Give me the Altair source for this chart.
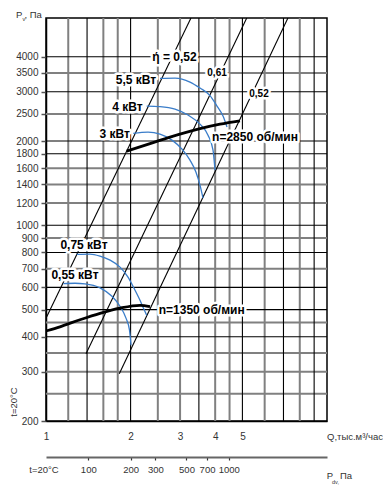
import altair as alt
import pandas as pd

FONT = "Liberation Sans"

# ---------------- axis values ----------------
q_ticks = [1, 2, 3, 4, 5]
p_ticks = [200, 300, 400, 500, 600, 700, 800, 900, 1000, 1200, 1400, 1600,
           1800, 2000, 2500, 3000, 3500, 4000]
pdv_ticks = [100, 200, 300, 500, 700, 1000]
pdv_per_q2 = 50
q_domain = [1, 10]
p_domain = [200, 5500]

# ---------------- grid ----------------
q_grid_black = [1.4, 2, 3.5, 5, 7, 9]
q_grid_gray = [1.2, 1.6, 1.8, 2.5, 3, 4, 4.5, 6, 8]
p_grid_black = [400, 500, 600, 800, 1000, 1800, 2000, 3000, 4000]
p_grid_gray = [250, 300, 350, 450, 700, 900, 1200, 1400, 1600, 2500, 3500]

# ---------------- fan curves ----------------
n2850_q = [1.937, 2.345, 2.763, 3.532, 4.161, 4.902]
n2850_p = [1841, 1958, 2066, 2215, 2298, 2362]
n1350_q = [1.006, 1.121, 1.321, 1.557, 1.834, 2.161, 2.345]
n1350_p = [420, 434, 460, 485, 506, 518, 512]

# ---------------- power curves ----------------
kw55_q = [2.545, 2.878, 3.254, 3.532, 3.834, 4.060, 4.265, 4.407]
kw55_p = [3349, 3357, 3248, 3092, 2906, 2666, 2455, 2243]
kw4_q = [2.282, 2.545, 2.878, 3.201, 3.532, 3.772, 3.930, 3.994]
kw4_p = [2666, 2654, 2600, 2476, 2298, 2099, 1856, 1574]
kw3_q = [2.045, 2.307, 2.545, 2.808, 3.048, 3.254, 3.418, 3.532, 3.620]
kw3_p = [2129, 2152, 2117, 2015, 1871, 1709, 1548, 1391, 1250]
kw075_q = [1.286, 1.434, 1.557, 1.690, 1.834, 1.958, 2.057, 2.160, 2.232, 2.282]
kw075_p = [787, 789, 776, 751, 709, 653, 596, 540, 501, 477]
kw055_q = [1.152, 1.268, 1.376, 1.557, 1.717, 1.834, 1.926, 1.982, 2.007]
kw055_p = [619, 621, 618, 598, 558, 514, 466, 422, 373]

# ---------------- efficiency (system) lines ----------------
eff_id = ["A", "A", "B", "B", "C", "C"]
eff_q = [1.006, 3.28, 1.388, 5.18, 1.823, 7.26]
eff_p = [471, 5500, 348, 5500, 295, 5500]

# ---------------- labels ----------------
lab_big = ["ή = 0,52", "5,5 кВт", "4 кВт", "3 кВт", "n=2850 об/мин",
           "0,75 кВт", "0,55 кВт", "n=1350 об/мин"]
lab_big_q = [2.867, 2.090, 1.950, 1.756, 5.544, 1.365, 1.268, 3.582]
lab_big_p = [4000, 3302, 2644, 2117, 2070, 849, 663, 500]
lab_small = ["0,61", "0,52"]
lab_small_q = [4.061, 5.728]
lab_small_p = [3497, 2943]


def series(name, qs, ps):
    return pd.DataFrame({"q": qs, "p": ps, "s": name, "i": list(range(len(qs)))})


xs = alt.Scale(type="log", domain=q_domain, nice=False)
ys = alt.Scale(type="log", domain=p_domain, nice=False)

x_axis = alt.Axis(values=q_ticks, format="d", ticks=False, labelPadding=10,
                  labelFontSize=10, labelFont=FONT, labelColor="#333",
                  grid=False, domainColor="black", domainWidth=1.5,
                  title=None, labelFlush=False)
y_axis = alt.Axis(values=p_ticks, format="d", tickSize=5, tickColor="#555",
                  tickWidth=1.5, labelPadding=3, labelFontSize=10,
                  labelFont=FONT, labelColor="#333", grid=False,
                  domainColor="black", domainWidth=1.5, title=None,
                  labelFlush=False, labelOverlap=False)


def X():
    return alt.X("q:Q", scale=xs, axis=x_axis)


def Y():
    return alt.Y("p:Q", scale=ys, axis=y_axis)


# grid
vg_gray = alt.Chart(pd.DataFrame({"q": q_grid_gray})).mark_rule(
    color="#808080", strokeWidth=2).encode(x=X())
vg_black = alt.Chart(pd.DataFrame({"q": q_grid_black})).mark_rule(
    color="black", strokeWidth=1.1).encode(x=X())
hg_gray = alt.Chart(pd.DataFrame({"p": p_grid_gray})).mark_rule(
    color="#808080", strokeWidth=2).encode(y=Y())
hg_black = alt.Chart(pd.DataFrame({"p": p_grid_black})).mark_rule(
    color="black", strokeWidth=1.1).encode(y=Y())

# efficiency lines
eff_df = pd.DataFrame({"q": eff_q, "p": eff_p, "s": eff_id})
eff = alt.Chart(eff_df).mark_line(color="black", strokeWidth=1.1, clip=True).encode(
    x=X(), y=Y(), detail="s:N")

# power curves
pw_df = pd.concat([
    series("5.5", kw55_q, kw55_p),
    series("4", kw4_q, kw4_p),
    series("3", kw3_q, kw3_p),
    series("0.75", kw075_q, kw075_p),
    series("0.55", kw055_q, kw055_p),
])
pw = alt.Chart(pw_df).mark_line(color="#3a7dc9", strokeWidth=1.3,
                                interpolate="monotone").encode(
    x=X(), y=Y(), detail="s:N", order="i:Q")

# fan curves
n_df = pd.concat([series("2850", n2850_q, n2850_p),
                  series("1350", n1350_q, n1350_p)])
ncurves = alt.Chart(n_df).mark_line(color="black", strokeWidth=2.8,
                                    interpolate="monotone").encode(
    x=X(), y=Y(), detail="s:N", order="i:Q")

# labels with white halo
big_df = pd.DataFrame({"q": lab_big_q, "p": lab_big_p, "t": lab_big})
small_df = pd.DataFrame({"q": lab_small_q, "p": lab_small_p, "t": lab_small})


def label_layers(df, size):
    halo = alt.Chart(df).mark_text(font=FONT, fontSize=size, fontWeight="bold",
                                   fill="white", stroke="white", strokeWidth=5,
                                   strokeJoin="round").encode(
        x=X(), y=Y(), text="t:N")
    txt = alt.Chart(df).mark_text(font=FONT, fontSize=size, fontWeight="bold",
                                  color="black").encode(
        x=X(), y=Y(), text="t:N")
    return [halo, txt]


def annot(text, x, y, size=9.5, align="left", angle=0):
    return alt.Chart(pd.DataFrame({"t": [text]})).mark_text(
        font=FONT, fontSize=size, color="#333", align=align,
        baseline="middle", angle=angle).encode(
        text="t:N", x=alt.value(x), y=alt.value(y))


annots = [
    annot("P", -30, -3, 9.5),
    annot("v", -23.5, 0.5, 5.5),
    annot(", Па", -21.5, -3, 9.5),
    annot("Q,тыс.м³/час", 281, 419, 9.5),
    annot("t=20°C", -2, 452, 9.5, align="center"),
    annot("P", 280.7, 458, 9.5),
    annot("dv,", 286, 463.5, 5.5),
    annot("Па", 294, 458, 9.5),
    annot("t=20°C", -32, 384, 9.5, align="center", angle=270),
]

inner = alt.layer(
    vg_gray, hg_gray, vg_black, hg_black, eff, pw, ncurves,
    *label_layers(big_df, 12), *label_layers(small_df, 10),
    *annots,
)

sec = alt.Chart(pd.DataFrame({"pdv": pdv_ticks})).mark_point(opacity=0).encode(
    x=alt.X("pdv:Q",
            scale=alt.Scale(type="log",
                            domain=[pdv_per_q2 * q_domain[0] ** 2,
                                    pdv_per_q2 * q_domain[1] ** 2],
                            nice=False),
            axis=alt.Axis(orient="bottom", offset=36, values=pdv_ticks,
                          format="d", domainColor="#666", domainWidth=2,
                          tickColor="#333", tickSize=3, tickWidth=1.2,
                          labelPadding=4, labelFontSize=9.5, labelFont=FONT,
                          labelColor="#333", grid=False, title=None,
                          labelFlush=False)))

chart = alt.layer(inner, sec).resolve_scale(x="independent").properties(
    width=281, height=403,
    autosize=alt.AutoSizeParams(type="none"),
    padding={"left": 38, "top": 10, "right": 56, "bottom": 70},
).configure_view(stroke="black", strokeWidth=1.5)

chart.save("out.html", embed_options={"renderer": "svg", "actions": False})
